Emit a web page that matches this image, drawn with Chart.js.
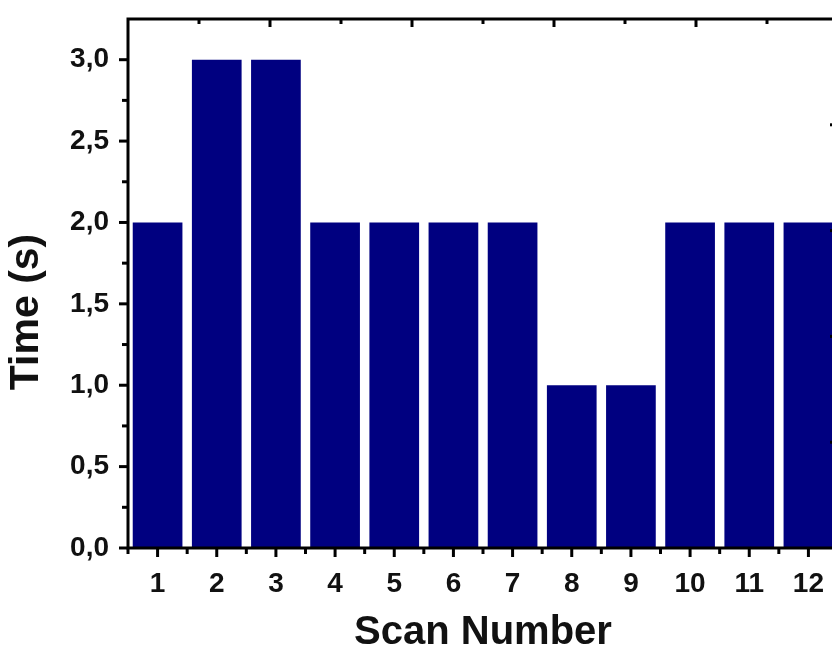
<!DOCTYPE html>
<html>
<head>
<meta charset="utf-8">
<script src="https://cdn.jsdelivr.net/npm/chart.js@4/dist/chart.umd.min.js"></script>
<style>
html, body { margin: 0; padding: 0; background: #fff; overflow: hidden; }
</style>
</head>
<body>
<canvas id="scanChart" width="846" height="657"></canvas>
<script>
const scans = ['1', '2', '3', '4', '5', '6', '7', '8', '9', '10', '11', '12'];
const times = [2, 3, 3, 2, 2, 2, 2, 1, 1, 2, 2, 2];
const timeTicks = [0, 0.5, 1, 1.5, 2, 2.5, 3];

const font = 'Liberation Sans, Arial, sans-serif';

// frame + tick marks drawn like Origin (major/minor, mirrored axes)
const framePlugin = {
    id: 'frame',
    afterDraw(chart) {
        const { ctx, chartArea: a, scales } = chart;
        ctx.save();
        ctx.strokeStyle = '#000';
        ctx.lineWidth = 3;
        const line = (x1, y1, x2, y2) => {
            ctx.beginPath(); ctx.moveTo(x1, y1); ctx.lineTo(x2, y2); ctx.stroke();
        };
        // left axis
        for (let v = 0; v <= 3.0001; v += 0.25) {
            const y = scales.y.getPixelForValue(v);
            const major = Math.abs(v * 2 - Math.round(v * 2)) < 1e-6;
            line(a.left, y, a.left - (major ? 9 : 6), y);
        }
        // bottom axis
        scans.forEach((s, i) => {
            const x = scales.x.getPixelForValue(i);
            line(x, a.bottom, x, a.bottom + 9);
        });
        for (let i = 0; i <= scans.length; i++) {
            const x = scales.x.getPixelForValue(i - 0.5);
            line(x, a.bottom, x, a.bottom + 6);
        }
        // top and right axes (inward ticks)
        for (let v = 0.5; v < 5; v += 0.5) {
            const major = Number.isInteger(v);
            const x = scales.x2.getPixelForValue(v);
            line(x, a.top, x, a.top + (major ? 8 : 5));
            const y = scales.y2.getPixelForValue(v);
            line(a.right, y, a.right - (major ? 8 : 5), y);
        }
        ctx.strokeRect(a.left, a.top, a.right - a.left, a.bottom - a.top);
        ctx.restore();
    }
};

const mirrorAxis = (position) => ({
    type: 'linear', position, min: 0, max: 5, offset: false,
    grid: { display: false, drawTicks: false, offset: false },
    border: { display: false },
    ticks: { display: false },
    afterFit: s => {
        if (position === 'top') s.height = 0; else s.width = 0;
        s.paddingLeft = s.paddingRight = s.paddingTop = s.paddingBottom = 0;
    }
});

const ctx = document.getElementById('scanChart').getContext('2d');
const scanChart = new Chart(ctx, {
    type: 'bar',
    data: {
        labels: scans,
        datasets: [{
            data: times,
            backgroundColor: '#000080',
            borderWidth: 0,
            barPercentage: 0.84,
            categoryPercentage: 1
        }]
    },
    options: {
        responsive: false,
        animation: false,
        layout: { padding: { left: 0, top: 19, right: 8, bottom: 0 } },
        plugins: { legend: { display: false }, tooltip: { enabled: false } },
        scales: {
            x: {
                grid: { display: false, drawTicks: false },
                border: { display: false },
                ticks: { color: '#111', padding: 19, font: { family: font, size: 28, weight: 'bold' } },
                title: {
                    display: true, text: 'Scan Number', color: '#111',
                    padding: { top: 8, bottom: 0 },
                    font: { family: font, size: 40, weight: 'bold' }
                },
                afterFit: s => { s.height = 109; s.paddingLeft = 0; s.paddingRight = 0; }
            },
            y: {
                min: 0,
                max: 3.25,
                grid: { display: false, drawTicks: false },
                border: { display: false },
                afterBuildTicks: s => { s.ticks = timeTicks.map(v => ({ value: v })); },
                ticks: {
                    color: '#111', padding: 19,
                    font: { family: font, size: 28, weight: 'bold' },
                    callback: v => v.toFixed(1).replace('.', ',')
                },
                title: {
                    display: true, text: 'Time (s)     ', color: '#111',
                    padding: { top: 2, bottom: 4 },
                    font: { family: font, size: 41, weight: 'bold' }
                },
                afterFit: s => { s.width = 128; s.paddingTop = 0; s.paddingBottom = 0; }
            },
            x2: mirrorAxis('top'),
            y2: mirrorAxis('right')
        }
    },
    plugins: [framePlugin]
});
</script>
</body>
</html>
